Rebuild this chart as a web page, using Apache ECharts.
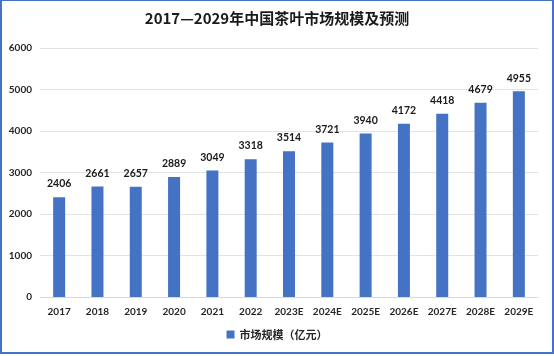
<!DOCTYPE html>
<html><head><meta charset="utf-8">
<script src="https://cdn.jsdelivr.net/npm/echarts@6/dist/echarts.min.js"></script>
<style>
html,body{margin:0;padding:0;background:#fff;}
#frame{position:absolute;left:0;top:0;width:550px;height:351px;border-left:2px solid #4472C4;border-top:1px solid #4472C4;border-right:2px solid #4472C4;border-bottom:2px solid #4472C4;}
#c{position:absolute;left:0;top:0;width:554px;height:356px;}
</style></head>
<body>
<div id="c"></div>
<div id="frame"></div>
<script>
const categories = ['2017','2018','2019','2020','2021','2022','2023E','2024E','2025E','2026E','2027E','2028E','2029E'];
const marketSize = [2406, 2661, 2657, 2889, 3049, 3318, 3514, 3721, 3940, 4172, 4418, 4679, 4955];
const seriesName = '市场规模（亿元）';
const titleText = '2017—2029年中国茶叶市场规模及预测';

const chart = echarts.init(document.getElementById('c'));
const fnt = 'Lato, "Noto Sans CJK SC", sans-serif';
chart.setOption({
  animation: false,
  backgroundColor: '#fff',
  title: {
    text: titleText, left: 'center', top: 6,
    textStyle: {fontFamily: '"Noto Sans CJK SC", Lato, sans-serif', fontSize: 15, fontWeight: 'bold', color: '#1a1a1a'}
  },
  legend: {
    bottom: 11, left: 'center', itemWidth: 8, itemHeight: 8, icon: 'rect',
    textStyle: {fontFamily: '"Noto Sans CJK SC", sans-serif', fontSize: 11, fontWeight: 'bold', color: '#262626'}
  },
  grid: {left: 40, right: 16, top: 48, bottom: 59, containLabel: false},
  xAxis: {
    type: 'category', data: categories,
    axisLine: {show: true, lineStyle: {color: '#d9d9d9'}},
    axisTick: {show: false},
    axisLabel: {fontFamily: fnt, fontSize: 10, fontWeight: 'bold', color: '#262626', margin: 10, interval: 0}
  },
  yAxis: {
    type: 'value', min: 0, max: 6000, interval: 1000,
    axisLine: {show: false}, axisTick: {show: false},
    splitLine: {lineStyle: {color: '#e3e3e3', width: 1}},
    axisLabel: {fontFamily: fnt, fontSize: 10, fontWeight: 'bold', color: '#262626', margin: 8,
      formatter: v => String(v)}
  },
  series: [{
    name: seriesName, type: 'bar', data: marketSize, barWidth: 12,
    itemStyle: {color: '#4472C4'},
    label: {show: true, position: 'top', distance: 8, fontFamily: fnt, fontSize: 10.5, fontWeight: 'bold', color: '#1a1a1a'}
  }]
});
</script>
</body></html>
